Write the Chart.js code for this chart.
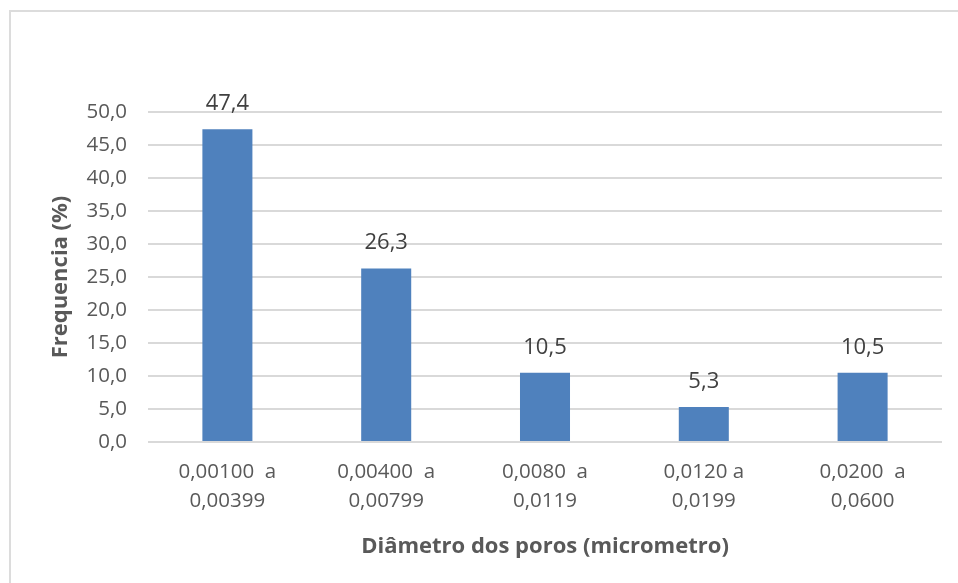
<!DOCTYPE html>
<html>
<head>
<meta charset="utf-8">
<script src="https://cdn.jsdelivr.net/npm/chart.js@4/dist/chart.umd.min.js"></script>
<style>
  html, body { margin: 0; padding: 0; background: #ffffff; overflow: hidden; }
  #frame {
    position: absolute; left: 9px; top: 10px; width: 1000px; height: 1000px;
    border: 2px solid #dcdcdc; box-sizing: border-box;
  }
  #wrap { position: absolute; left: 0; top: 0; width: 958px; height: 583px; }
</style>
</head>
<body>
<div id="frame"></div>
<div id="wrap"><canvas id="c" width="958" height="583"></canvas></div>
<script>
// Pore-diameter classes (micrometro) and their frequency (%)
const categories = [
  ["0,00100  a", "0,00399"],
  ["0,00400  a", "0,00799"],
  ["0,0080  a", "0,0119"],
  ["0,0120 a", "0,0199"],
  ["0,0200  a", "0,0600"]
];
const frequencia = [47.4, 26.3, 10.5, 5.3, 10.5];
const yTickMin = 0;
const yTickMax = 50;
const yTickStep = 5;

const FONT = "'Open Sans'";
const fmt = v => v.toFixed(1).replace('.', ',');

// Value labels above each bar
const valueLabels = {
  id: 'valueLabels',
  afterDatasetsDraw(chart) {
    const ctx = chart.ctx;
    const meta = chart.getDatasetMeta(0);
    ctx.save();
    ctx.font = "22px " + FONT;
    ctx.fillStyle = '#404040';
    ctx.textAlign = 'center';
    ctx.textBaseline = 'alphabetic';
    meta.data.forEach((bar, i) => {
      ctx.fillText(fmt(chart.data.datasets[0].data[i]), bar.x, bar.y - 19);
    });
    ctx.restore();
  }
};

new Chart(document.getElementById('c'), {
  type: 'bar',
  data: {
    labels: categories,
    datasets: [{
      data: frequencia,
      backgroundColor: '#4f81bd',
      borderWidth: 0,
      categoryPercentage: 1,
      barPercentage: 0.315
    }]
  },
  options: {
    responsive: false,
    animation: false,
    layout: { padding: { left: 0, right: 16, top: 112, bottom: 0 } },
    plugins: { legend: { display: false }, tooltip: { enabled: false } },
    scales: {
      x: {
        grid: { display: false, drawTicks: false },
        border: { display: false },
        ticks: {
          color: '#595959',
          font: { family: FONT, size: 20.5, lineHeight: 1.415 },
          padding: 16,
          maxRotation: 0,
          autoSkip: false
        },
        title: {
          display: true,
          text: 'Diâmetro dos poros (micrometro)',
          color: '#595959',
          font: { family: FONT, size: 22, weight: 'bold' },
          padding: { top: 0, bottom: 23 }
        },
        afterFit(scale) { scale.height = 141; }
      },
      y: {
        min: yTickMin,
        max: yTickMax,
        grid: { color: '#d9d9d9', lineWidth: 2, drawTicks: false },
        border: { display: false },
        ticks: {
          stepSize: yTickStep,
          color: '#595959',
          font: { family: FONT, size: 20.5 },
          padding: 21,
          callback: v => fmt(v)
        },
        title: {
          display: true,
          text: 'Frequencia (%)',
          color: '#595959',
          font: { family: FONT, size: 22, weight: 'bold' },
          padding: { top: 48, bottom: 0 }
        },
        afterFit(scale) { scale.width = 148; }
      }
    }
  },
  plugins: [valueLabels]
});
</script>
</body>
</html>
